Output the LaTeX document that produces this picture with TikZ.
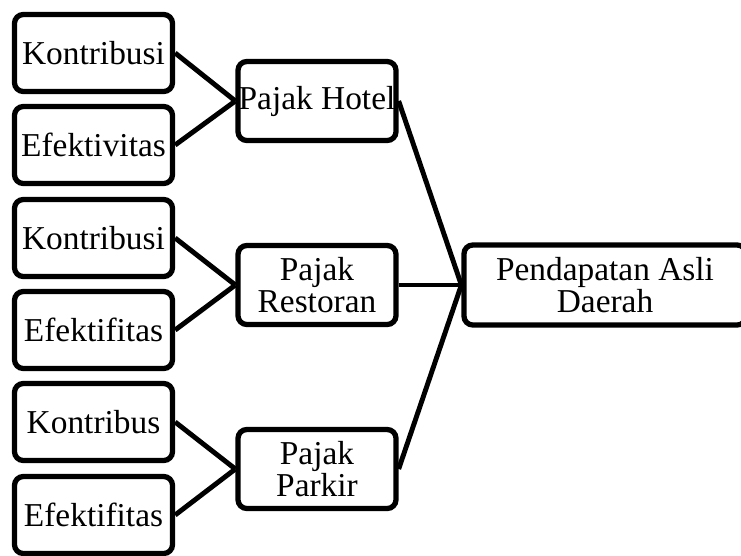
\documentclass[tikz,border=0pt]{standalone}
\usepackage{fontspec}
\setmainfont{Liberation Serif}
\usepackage{tikz}
\usetikzlibrary{positioning}

\begin{document}
\begin{tikzpicture}[
    every node/.style={font=\fontsize{19}{18.4}\selectfont, align=center, inner sep=0pt},
    itembox/.style={draw=black, line width=3pt, rounded corners=5pt, minimum width=3.16cm, minimum height=1.54cm},
    pajakbox/.style={draw=black, line width=3pt, rounded corners=5pt, minimum width=3.16cm, minimum height=1.58cm},
    link/.style={line width=2.8pt}
]
    \useasboundingbox (0,0) rectangle (14.82,-11.1);

    % Pajak Hotel
    \node[itembox] (kon1) at (1.87,-1.06) {Kontribusi};
    \node[itembox] (efk1) at (1.87,-2.90) {Efektivitas};
    \node[pajakbox] (hotel) at (6.34,-2.02) {Pajak Hotel};

    % Pajak Restoran
    \node[itembox] (kon2) at (1.87,-4.76) {Kontribusi};
    \node[itembox] (efk2) at (1.87,-6.60) {Efektifitas};
    \node[pajakbox] (resto) at (6.34,-5.70) {Pajak\\Restoran};

    % Pajak Parkir
    \node[itembox] (kon3) at (1.87,-8.44) {Kontribus};
    \node[itembox] (efk3) at (1.87,-10.30) {Efektifitas};
    \node[pajakbox] (parkir) at (6.34,-9.38) {Pajak\\Parkir};

    % PAD
    \node[pajakbox, minimum width=5.64cm, minimum height=1.6cm] (pad) at (12.1,-5.70) {Pendapatan Asli\\Daerah};

    % connectors
    \draw[link] (kon1.east) -- (hotel.west);
    \draw[link] (efk1.east) -- (hotel.west);
    \draw[link] (kon2.east) -- (resto.west);
    \draw[link] (efk2.east) -- (resto.west);
    \draw[link] (kon3.east) -- (parkir.west);
    \draw[link] (efk3.east) -- (parkir.west);
    \draw[link] (hotel.east) -- (pad.west);
    \draw[link] (resto.east) -- (pad.west);
    \draw[link] (parkir.east) -- (pad.west);
\end{tikzpicture}
\end{document}
